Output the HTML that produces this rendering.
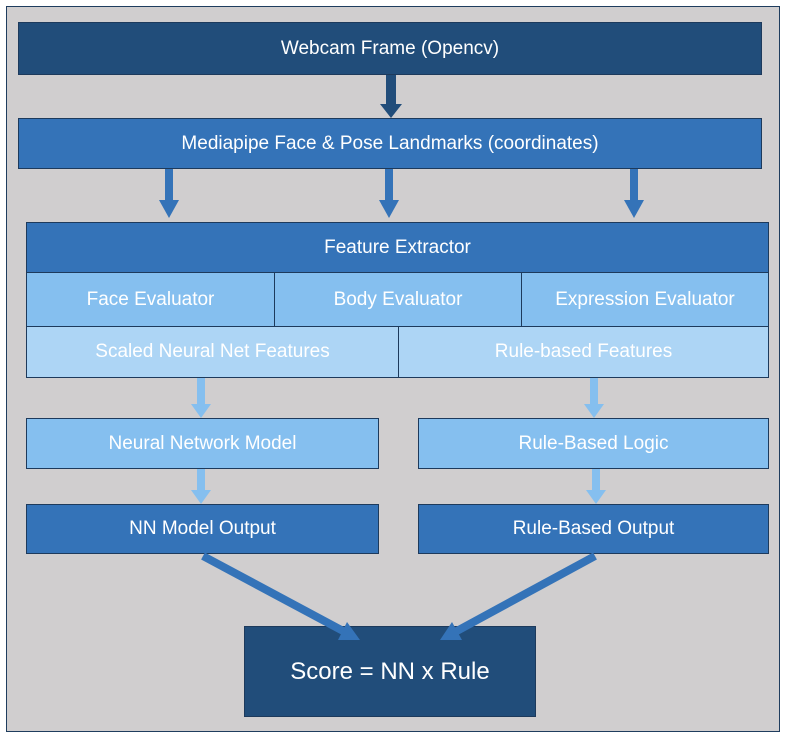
<!DOCTYPE html>
<html><head><style>
body{margin:0;width:788px;height:734px;background:#fff;font-family:"Liberation Sans",sans-serif;}
.frame{position:absolute;left:6px;top:6px;width:774px;height:726px;background:#d0cecf;border:1px solid #1f3d5e;box-sizing:border-box;}
.b{position:absolute;box-sizing:border-box;border:1.5px solid #1d3a5c;color:#fff;display:flex;align-items:center;justify-content:center;font-size:19px;}
.d{background:#214d7a}.m{background:#3473b8}.l{background:#85bfef}.ll{background:#add5f5}
</style></head><body>
<div class="frame"></div>
<div class="b d" style="left:18px;top:22px;width:744px;height:53px;">Webcam Frame (Opencv)</div>
<div class="b m" style="left:18px;top:118px;width:744px;height:51px;">Mediapipe Face &amp; Pose Landmarks (coordinates)</div>
<div class="b m" style="left:26px;top:222px;width:743px;height:51px;">Feature Extractor</div>
<div class="b l" style="left:26px;top:272px;width:249px;height:55px;">Face Evaluator</div>
<div class="b l" style="left:274px;top:272px;width:248px;height:55px;">Body Evaluator</div>
<div class="b l" style="left:521px;top:272px;width:248px;height:55px;">Expression Evaluator</div>
<div class="b ll" style="left:26px;top:326px;width:373px;height:52px;">Scaled Neural Net Features</div>
<div class="b ll" style="left:398px;top:326px;width:371px;height:52px;">Rule-based Features</div>
<div class="b l" style="left:26px;top:418px;width:353px;height:51px;">Neural Network Model</div>
<div class="b l" style="left:418px;top:418px;width:351px;height:51px;">Rule-Based Logic</div>
<div class="b m" style="left:26px;top:504px;width:353px;height:50px;">NN Model Output</div>
<div class="b m" style="left:418px;top:504px;width:351px;height:50px;">Rule-Based Output</div>
<div class="b d" style="left:244px;top:626px;width:292px;height:91px;font-size:24px;">Score = NN x Rule</div>
<svg width="788" height="734" style="position:absolute;left:0;top:0">
<g fill="#214d7a"><rect x="386" y="75" width="10" height="30"/><polygon points="380,104 402,104 391,118"/></g>
<g fill="#3473b8">
<rect x="165" y="169" width="8" height="32"/><polygon points="159,200 179,200 169,218"/>
<rect x="385" y="169" width="8" height="32"/><polygon points="379,200 399,200 389,218"/>
<rect x="630" y="169" width="8" height="32"/><polygon points="624,200 644,200 634,218"/>
</g>
<g fill="#85bfef">
<rect x="197" y="378" width="8" height="27"/><polygon points="191,404 211,404 201,418"/>
<rect x="590" y="378" width="8" height="27"/><polygon points="584,404 604,404 594,418"/>
<rect x="197" y="469" width="8" height="22"/><polygon points="191,490 211,490 201,504"/>
<rect x="592" y="469" width="8" height="22"/><polygon points="586,490 606,490 596,504"/>
</g>
<g stroke="#3473b8" stroke-width="8"><line x1="203" y1="556" x2="345" y2="632"/><line x1="595" y1="556" x2="455" y2="632"/></g>
<g fill="#3473b8"><polygon points="338,640 360,640 347,622"/><polygon points="440,640 462,640 452,622"/></g>
</svg>
</body></html>
